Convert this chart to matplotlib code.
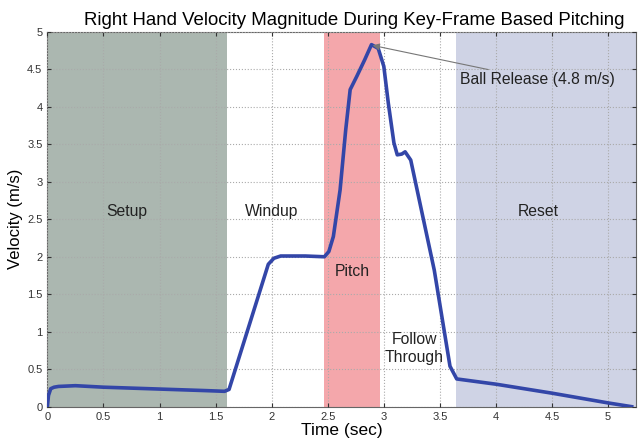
import numpy as np
import matplotlib
matplotlib.use('Agg')
import matplotlib.pyplot as plt
from matplotlib.ticker import FormatStrFormatter, MultipleLocator

plt.rcParams['font.family'] = ['Liberation Sans', 'DejaVu Sans']

# velocity curve (time in s, speed in m/s)
t = [0.0, 0.01, 0.03, 0.06, 0.1, 0.25, 0.5, 0.8, 1.1, 1.4, 1.58, 1.62,
     1.97, 2.02, 2.08, 2.3, 2.47, 2.51, 2.55, 2.61, 2.66, 2.70, 2.76, 2.83,
     2.89, 2.95, 3.0, 3.04, 3.09, 3.12, 3.16, 3.19, 3.24, 3.45, 3.59, 3.65,
     4.0, 4.5, 5.0, 5.21]
v = [0.0, 0.15, 0.24, 0.26, 0.27, 0.28, 0.26, 0.245, 0.23, 0.215, 0.205, 0.23,
     1.9, 1.98, 2.01, 2.01, 2.0, 2.07, 2.27, 2.89, 3.69, 4.23, 4.41, 4.63,
     4.83, 4.78, 4.54, 4.05, 3.52, 3.36, 3.37, 3.40, 3.29, 1.82, 0.54, 0.37,
     0.3, 0.18, 0.05, 0.0]

# phase bands
band_start = [0.0, 2.47, 3.645]
band_end = [1.6, 2.97, 5.25]
band_color = ['#abb7b0', '#f4a7ab', '#cfd3e5']

phase_names = ['Setup', 'Windup', 'Pitch', 'Follow\nThrough', 'Reset']
phase_x = [0.71, 2.0, 2.72, 3.27, 4.38]
phase_y = [2.6, 2.6, 1.8, 0.78, 2.6]

peak_t, peak_v = 2.90, 4.82

fig = plt.figure(figsize=(6.4, 4.43), dpi=100, facecolor='w')
ax = fig.add_axes([0.074, 0.082, 0.920, 0.846])

for a, b, c in zip(band_start, band_end, band_color):
    ax.axvspan(a, b, color=c, lw=0, zorder=0)

ax.plot(t, v, color='#3346a8', lw=2.6, zorder=3, solid_joinstyle='round')

for name, x, y in zip(phase_names, phase_x, phase_y):
    ax.text(x, y, name, ha='center', va='center', fontsize=11.3, color='#222222',
            linespacing=1.25, zorder=4)

ax.annotate('Ball Release (4.8 m/s)', xy=(peak_t, peak_v), xytext=(3.68, 4.36),
            fontsize=11.3, color='#222222', va='center', zorder=5,
            arrowprops=dict(arrowstyle='-|>', color='#777777', lw=0.8,
                            mutation_scale=10, shrinkA=0, shrinkB=0))

ax.set_xlim(0, 5.25)
ax.set_ylim(0, 5)
ax.xaxis.set_major_locator(MultipleLocator(0.5))
ax.yaxis.set_major_locator(MultipleLocator(0.5))
ax.xaxis.set_major_formatter(FormatStrFormatter('%g'))
ax.yaxis.set_major_formatter(FormatStrFormatter('%g'))
ax.tick_params(direction='in', length=3, labelsize=8, colors='#333333',
               top=True, right=True)
ax.grid(True, which='major', color='#aaaaaa', ls=':', lw=0.8, zorder=1)
ax.set_axisbelow(False)
for spine in ax.spines.values():
    spine.set_color('#666666')
    spine.set_linewidth(0.8)

ax.set_xlabel('Time (sec)', fontsize=12.5, labelpad=1)
ax.set_ylabel('Velocity (m/s)', fontsize=12, labelpad=3)
ax.set_title('Right Hand Velocity Magnitude During Key-Frame Based Pitching',
             fontsize=13.4, x=0.522, pad=5)

fig.savefig('out.png', dpi=100, facecolor='w')
